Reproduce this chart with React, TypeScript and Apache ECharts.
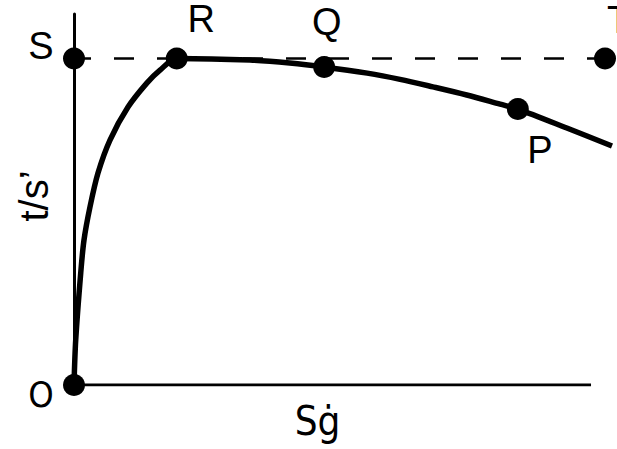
import React, { useEffect, useRef } from "react";
import * as echarts from "echarts";

// Axis domains (arbitrary units)
const xMax = 100;
const yMax = 113.6;

// Curve t/s' vs Sġ
const curveX = [0, 0.32, 1.25, 1.86, 2.97, 4.46, 6.69, 10.04, 13.57, 15.99, 19.1, 32.7, 40.1, 46.5, 54.5, 60.6, 66.7, 73.0, 79.2, 82.5, 91.6, 100];
const curveY = [0, 13.8, 34.3, 44.4, 54.5, 64.9, 75.0, 85.1, 92.5, 96.4, 100, 99.5, 98.6, 97.4, 95.5, 93.6, 91.3, 88.8, 86.0, 84.5, 78.7, 73.2];

// Labelled points
const pointNames = ["S", "R", "Q", "P", "T", "O"];
const pointX = [0, 19.1, 46.5, 82.5, 98.7, 0];
const pointY = [100, 100, 97.4, 84.5, 100, 0];

// Reference (dashed) level and x-axis extent
const levelStartX = 0;
const levelEndX = 98.7;
const levelY = 100;
const xAxisEnd = 96.1;

const xTitle = "Sġ";
const yTitle = "t/s’";

const narrowFont = "'Liberation Sans Narrow', 'DejaVu Sans Condensed', sans-serif";

const labelStyle: Record<string, any> = {
  S: { offset: [-33, -12] },
  R: { offset: [24.5, -39] },
  Q: { offset: [2.5, -44.5] },
  P: { offset: [22, 41] },
  T: { offset: [2, -38.5], align: "left" },
  O: { offset: [-33, 9], fontFamily: narrowFont, fontSize: 36 },
};

export default function App() {
  const ref = useRef<HTMLDivElement>(null);
  useEffect(() => {
    if (!ref.current) return;
    const chart = echarts.init(ref.current, null, { renderer: "svg" });
    const curve = curveX.map((x, i) => [x, curveY[i]]);
    const points = pointNames.map((n, i) => ({
      name: n,
      value: [pointX[i], pointY[i]],
      label: {
        show: true,
        position: "inside",
        formatter: n,
        color: "#000",
        opacity: 1,
        fontFamily: "'Liberation Sans', Arial, sans-serif",
        fontSize: 38,
        align: "center",
        verticalAlign: "middle",
        ...labelStyle[n],
      },
    }));
    chart.setOption({
      animation: false,
      backgroundColor: "#fff",
      grid: { left: 74, right: 5, top: 14, bottom: 64 },
      xAxis: {
        type: "value",
        min: 0,
        max: xMax,
        axisLine: { show: false },
        axisTick: { show: false },
        axisLabel: { show: false },
        splitLine: { show: false },
      },
      yAxis: {
        type: "value",
        min: 0,
        max: yMax,
        axisLine: { show: true, lineStyle: { color: "#000", width: 3 } },
        axisTick: { show: false },
        axisLabel: { show: false },
        splitLine: { show: false },
      },
      series: [
        {
          type: "line",
          data: [[0, 0], [xAxisEnd, 0]],
          showSymbol: false,
          lineStyle: { color: "#000", width: 3 },
          z: 1,
        },
        {
          type: "line",
          data: [[levelStartX, levelY], [levelEndX, levelY]],
          showSymbol: false,
          lineStyle: { color: "#000", width: 2.5, type: [20, 23], dashOffset: 3 },
          z: 1,
        },
        {
          type: "line",
          data: curve,
          smooth: 0.3,
          showSymbol: false,
          lineStyle: { color: "#000", width: 5.5 },
          z: 2,
        },
        {
          type: "scatter",
          data: points,
          symbol: "circle",
          symbolSize: 22,
          clip: false,
          itemStyle: { color: "#000", opacity: 1 },
          z: 3,
        },
      ],
      graphic: [
        {
          type: "text",
          x: 317.5,
          y: 420.5,
          style: {
            text: xTitle,
            fill: "#000",
            font: "40px " + narrowFont,
            textAlign: "center",
            textVerticalAlign: "middle",
          },
        },
        {
          type: "text",
          x: 34,
          y: 196,
          rotation: Math.PI / 2,
          style: {
            text: yTitle,
            fill: "#000",
            font: "40px 'Liberation Sans', Arial, sans-serif",
            textAlign: "center",
            textVerticalAlign: "middle",
          },
        },
      ],
    });
    return () => chart.dispose();
  }, []);
  return (
    <div
      ref={ref}
      style={{ position: "fixed", left: 0, top: 0, width: 617, height: 449 }}
    />
  );
}
